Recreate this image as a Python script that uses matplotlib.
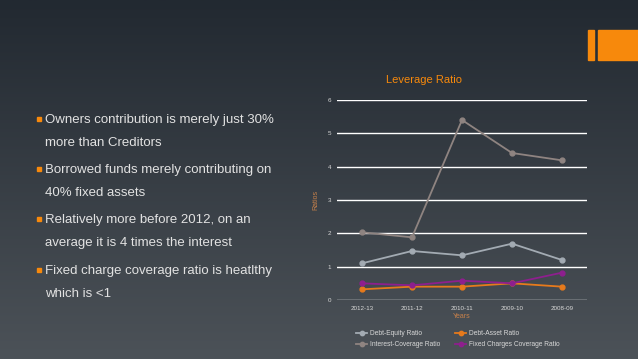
import numpy as np
import matplotlib.pyplot as plt
from matplotlib.patches import Rectangle

years = ['2012-13', '2011-12', '2010-11', '2009-10', '2008-09']
debt_equity = [1.10, 1.47, 1.34, 1.69, 1.20]
debt_asset = [0.32, 0.40, 0.40, 0.50, 0.40]
interest_cov = [2.03, 1.88, 5.40, 4.41, 4.19]
fixed_charges = [0.50, 0.44, 0.58, 0.50, 0.82]

bullets = [
    ("Owners contribution is merely just 30%", "more than Creditors"),
    ("Borrowed funds merely contributing on", "40% fixed assets"),
    ("Relatively more before 2012, on an", "average it is 4 times the interest"),
    ("Fixed charge coverage ratio is heatlthy", "which is <1"),
]

plt.rcParams['font.family'] = ['Liberation Sans', 'DejaVu Sans']

fig = plt.figure(figsize=(6.38, 3.59), dpi=100)

# background gradient
bg = fig.add_axes([0, 0, 1, 1])
top = np.array([0x22, 0x29, 0x31]) / 255
bot = np.array([0x4c, 0x52, 0x58]) / 255
t = np.linspace(0, 1, 256)[:, None]
grad = top * (1 - t) + bot * t
bg.imshow(grad[:, None, :], aspect='auto', extent=[0, 1, 0, 1])
bg.set_xlim(0, 1)
bg.set_ylim(0, 1)
bg.axis('off')

# orange decoration top right
bg.add_patch(Rectangle((588 / 638, 1 - 60 / 359), 6 / 638, 30 / 359, color='#f7890c'))
bg.add_patch(Rectangle((598 / 638, 1 - 60 / 359), 40 / 638, 30 / 359, color='#f7890c'))

# bullet text
ys = [120, 143, 170, 193, 220, 243, 271, 294]
k = 0
for first, second in bullets:
    bg.plot(38.5 / 638, 1 - (ys[k] - 1) / 359, marker='s', ms=3, color='#f7890c')
    fig.text(45 / 638, 1 - ys[k] / 359, first, color='#e2e2e2', fontsize=9.5, va='center')
    fig.text(45 / 638, 1 - ys[k + 1] / 359, second, color='#e2e2e2', fontsize=9.5, va='center')
    k += 2

ax = fig.add_axes([337 / 638, 1 - 300 / 359, 250 / 638, 200 / 359])
ax.patch.set_alpha(0)
x = np.arange(len(years))
h1, = ax.plot(x, debt_equity, color='#a3abb3', marker='o', ms=3.5, lw=1.3)
h2, = ax.plot(x, debt_asset, color='#e67a1c', marker='o', ms=3.5, lw=1.3)
h3, = ax.plot(x, interest_cov, color='#8f8481', marker='o', ms=3.5, lw=1.3)
h4, = ax.plot(x, fixed_charges, color='#8e1f8e', marker='o', ms=3.5, lw=1.3)
ax.set_xlim(-0.5, len(years) - 0.5)
ax.set_ylim(0, 6)
ax.set_yticks(range(7))
ax.set_xticks(x)
ax.set_xticklabels(years)
ax.grid(axis='y', color='white', lw=1)
ax.set_axisbelow(True)
for s in ax.spines.values():
    s.set_visible(False)
ax.tick_params(length=0, labelsize=4.5, colors='#d8d8d8', pad=4)
ax.set_xlabel('Years', color='#c8814a', fontsize=5, labelpad=2)
ax.set_ylabel('Ratios', color='#c8814a', fontsize=5, labelpad=6)
ax.set_title('Leverage Ratio', color='#f7890c', fontsize=8, x=0.35, pad=12)

fig.legend([h1, h3, h2, h4],
           ['Debt-Equity Ratio', 'Interest-Coverage Ratio', 'Debt-Asset Ratio',
            'Fixed Charges Coverage Ratio'],
           ncol=2, loc='center left', bbox_to_anchor=(350 / 638, 1 - 339 / 359),
           frameon=False, fontsize=4.8, labelcolor='#d8d8d8', handletextpad=0.4,
           handlelength=1.7, columnspacing=2.2, markerscale=0.9, labelspacing=0.6)

fig.savefig('out.png', dpi=100)
